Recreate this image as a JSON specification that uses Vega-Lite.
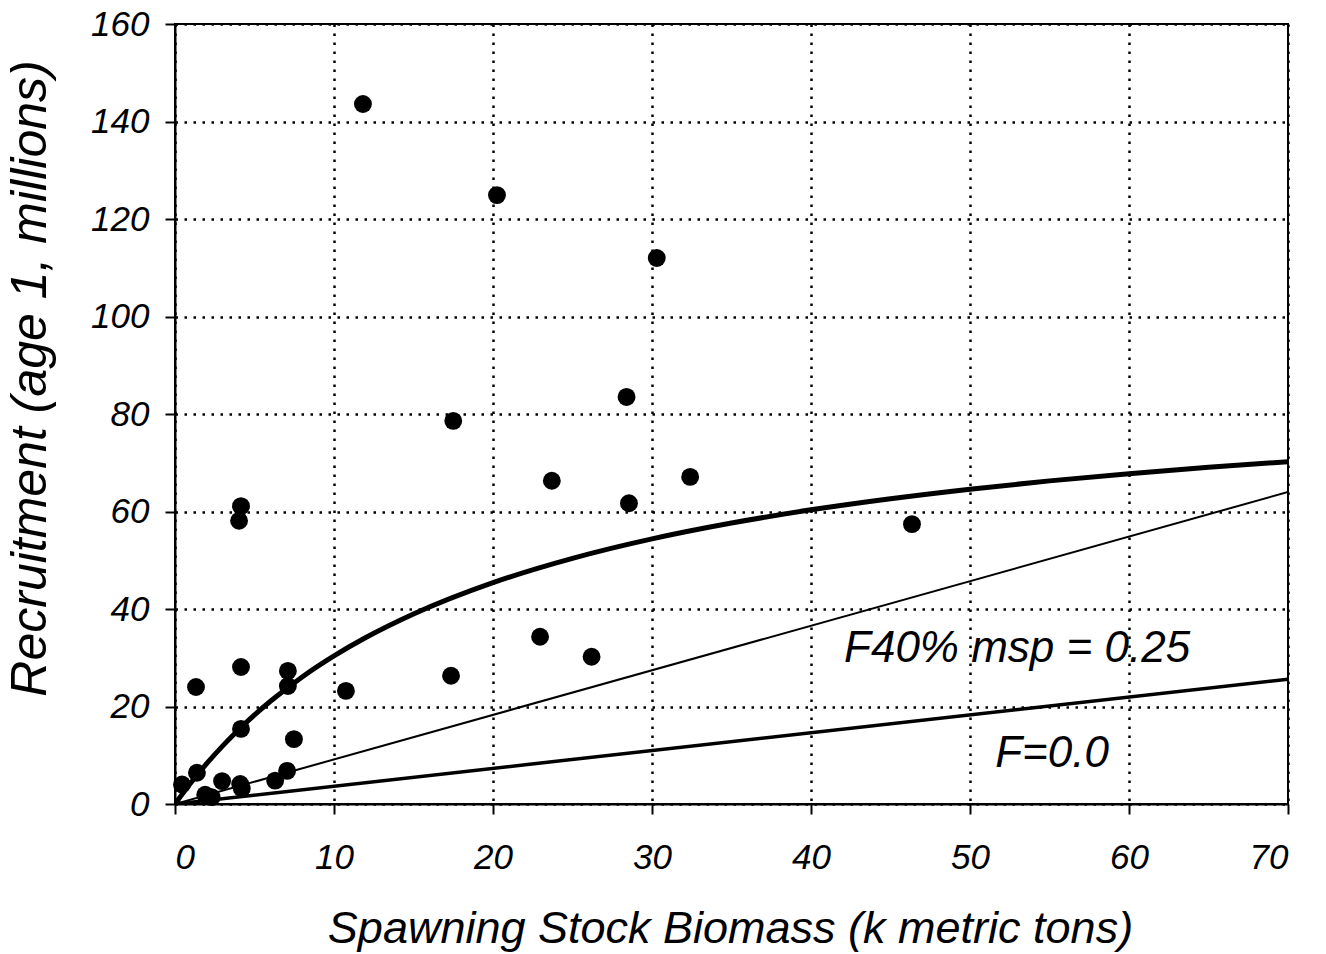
{
  "$schema": "https://vega.github.io/schema/vega-lite/v6.json",
  "width": 1113,
  "height": 780,
  "autosize": "none",
  "padding": {"left": 175, "top": 24, "right": 38, "bottom": 150},
  "background": "white",
  "config": {
    "view": {"stroke": "black", "strokeWidth": 2},
    "font": "Liberation Sans",
    "axis": {
      "labelFont": "Liberation Sans", "labelFontStyle": "italic", "labelFontSize": 35, "labelColor": "black",
      "titleFont": "Liberation Sans", "titleFontStyle": "italic", "titleFontWeight": "normal", "titleColor": "black",
      "domainColor": "black", "domainWidth": 2, "tickColor": "black", "tickWidth": 2, "tickSize": 10,
      "gridColor": "black", "gridWidth": 2.5, "gridDash": [2.5, 6.5], "gridOpacity": 1
    }
  },
  "datasets": {
    "obs": [
      {"ssb": 11.82, "rec": 143.6}, {"ssb": 20.25, "rec": 124.9}, {"ssb": 30.3, "rec": 112.0},
      {"ssb": 17.5, "rec": 78.6}, {"ssb": 28.4, "rec": 83.5}, {"ssb": 23.7, "rec": 66.3},
      {"ssb": 28.55, "rec": 61.7}, {"ssb": 32.4, "rec": 67.1}, {"ssb": 46.35, "rec": 57.4},
      {"ssb": 4.15, "rec": 61.1}, {"ssb": 4.03, "rec": 58.1}, {"ssb": 4.15, "rec": 28.1},
      {"ssb": 1.32, "rec": 24.0}, {"ssb": 7.1, "rec": 27.3}, {"ssb": 7.1, "rec": 24.2},
      {"ssb": 10.75, "rec": 23.2}, {"ssb": 17.36, "rec": 26.3}, {"ssb": 22.96, "rec": 34.3},
      {"ssb": 26.2, "rec": 30.2}, {"ssb": 4.15, "rec": 15.4}, {"ssb": 7.48, "rec": 13.3},
      {"ssb": 0.44, "rec": 4.0}, {"ssb": 1.38, "rec": 6.4}, {"ssb": 1.9, "rec": 1.9},
      {"ssb": 2.3, "rec": 1.4}, {"ssb": 2.96, "rec": 4.7}, {"ssb": 4.1, "rec": 4.1},
      {"ssb": 4.2, "rec": 3.2}, {"ssb": 6.3, "rec": 4.8}, {"ssb": 7.05, "rec": 6.8}
    ],
    "bh": [
      {"ssb": 0, "rec": 0}, {"ssb": 1, "rec": 4.36}, {"ssb": 2, "rec": 8.32}, {"ssb": 3, "rec": 11.93},
      {"ssb": 4, "rec": 15.24}, {"ssb": 5, "rec": 18.27}, {"ssb": 6, "rec": 21.07}, {"ssb": 8, "rec": 26.06},
      {"ssb": 10, "rec": 30.37}, {"ssb": 12, "rec": 34.14}, {"ssb": 15, "rec": 38.97}, {"ssb": 20, "rec": 45.4},
      {"ssb": 25, "rec": 50.39}, {"ssb": 30, "rec": 54.38}, {"ssb": 35, "rec": 57.63}, {"ssb": 40, "rec": 60.34},
      {"ssb": 45, "rec": 62.62}, {"ssb": 50, "rec": 64.58}, {"ssb": 55, "rec": 66.28}, {"ssb": 60, "rec": 67.76},
      {"ssb": 65, "rec": 69.07}, {"ssb": 70, "rec": 70.23}
    ],
    "f40": [{"ssb": 0, "rec": 0}, {"ssb": 70, "rec": 64.0}],
    "f0": [{"ssb": 0, "rec": 0}, {"ssb": 70, "rec": 25.6}],
    "labels": [
      {"ssb": 52.96, "rec": 29.1, "text": "F40% msp = 0.25"},
      {"ssb": 55.16, "rec": 7.6, "text": "F=0.0"}
    ]
  },
  "encoding": {
    "x": {
      "field": "ssb", "type": "quantitative",
      "scale": {"domain": [0, 70], "nice": false, "zero": true},
      "axis": {"values": [0, 10, 20, 30, 40, 50, 60, 70], "title": "Spawning Stock Biomass (k metric tons)",
        "labelPadding": 26, "titleFontSize": 45, "titleX": 555, "titleY": 138, "titleBaseline": "alphabetic", "titleAlign": "center"}
    },
    "y": {
      "field": "rec", "type": "quantitative",
      "scale": {"domain": [0, 160], "nice": false},
      "axis": {"values": [0, 20, 40, 60, 80, 100, 120, 140, 160], "title": "Recruitment (age 1, millions)",
        "labelPadding": 16, "titleFontSize": 50, "titleX": -145, "titleY": 354, "titleBaseline": "middle", "titleAlign": "center", "titleAngle": -90}
    }
  },
  "layer": [
    {"data": {"name": "f0"}, "mark": {"type": "line", "color": "black", "strokeWidth": 3.5, "clip": true}},
    {"data": {"name": "f40"}, "mark": {"type": "line", "color": "black", "strokeWidth": 2, "clip": true}},
    {"data": {"name": "bh"}, "mark": {"type": "line", "color": "black", "strokeWidth": 5, "interpolate": "monotone", "clip": true}},
    {"data": {"name": "obs"}, "mark": {"type": "circle", "color": "black", "opacity": 1, "size": 320}},
    {"data": {"name": "labels"}, "mark": {"type": "text", "font": "Liberation Sans", "fontStyle": "italic", "fontSize": 44, "color": "black", "align": "center", "baseline": "alphabetic"},
     "encoding": {"text": {"field": "text"}}}
  ]
}
